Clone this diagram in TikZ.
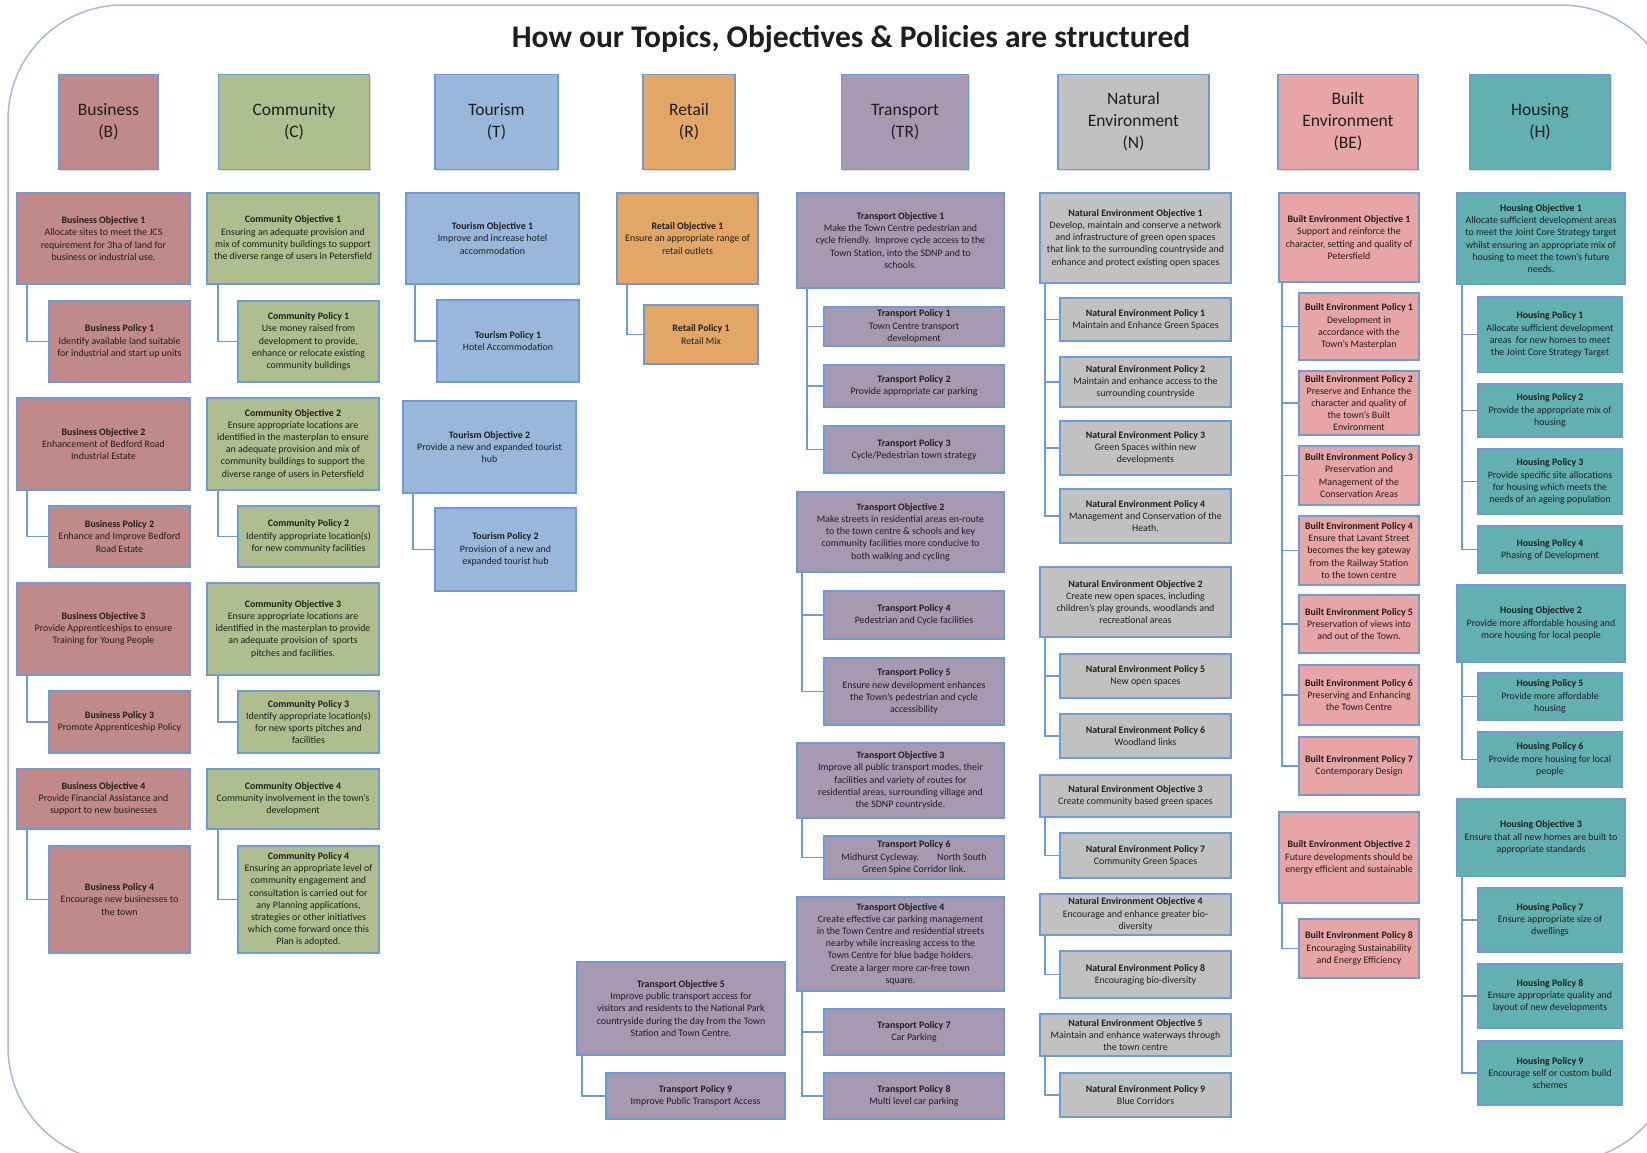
\documentclass[tikz,border=0pt]{standalone}
\usepackage{fontspec}
\setmainfont{Carlito}
\usetikzlibrary{shadows}
\definecolor{bordblue}{HTML}{6E9BD2}
\definecolor{framecol}{HTML}{A8BBD6}
\definecolor{busfill}{HTML}{C08A8A}
\definecolor{comfill}{HTML}{AFBE8E}
\definecolor{tourfill}{HTML}{98B7DA}
\definecolor{retfill}{HTML}{E2A767}
\definecolor{trafill}{HTML}{A699B2}
\definecolor{natfill}{HTML}{C1C1C1}
\definecolor{bltfill}{HTML}{E8A5A6}
\definecolor{houfill}{HTML}{63B0B0}
\definecolor{txt}{HTML}{1E1E1E}
\tikzstyle{topic} = [draw=bordblue, line width=1.6pt, align=center, text=txt, font=\fontsize{17.5}{22}\selectfont, minimum height=95pt, drop shadow={shadow xshift=1.2pt, shadow yshift=-1.2pt, opacity=0.25}]
\tikzstyle{item} = [draw=bordblue, line width=1.6pt, align=center, text=txt, font=\fontsize{9.9}{12.2}\selectfont, inner sep=1pt, drop shadow={shadow xshift=1.2pt, shadow yshift=-1.2pt, opacity=0.25}]
\tikzstyle{link} = [draw=bordblue, line width=1.8pt]

\begin{document}
\begin{tikzpicture}[x=1pt,y=-1pt]
\useasboundingbox (0,0) rectangle (1647,1152);
\clip (0,0) rectangle (1647,1152);
\fill[white] (0,0) rectangle (1647,1152);
\draw[framecol, line width=1.5pt, rounded corners=115pt] (8,5) rectangle (1676,1162);

\node[font=\fontsize{31.5}{36}\selectfont\bfseries, text=txt] (title) at (851,39) {How our Topics, Objectives \& Policies are structured};

% topic headers
\node[topic, fill=busfill, minimum width=99pt] (hbus) at (108.5,122) {Business\\(B)};
\node[topic, fill=comfill, minimum width=151pt] (hcom) at (294,122) {Community\\(C)};
\node[topic, fill=tourfill, minimum width=123pt] (htour) at (496.5,122) {Tourism\\(T)};
\node[topic, fill=retfill, minimum width=92pt] (hret) at (689,122) {Retail\\(R)};
\node[topic, fill=trafill, minimum width=127pt] (htra) at (905,122) {Transport\\(TR)};
\node[topic, fill=natfill, minimum width=151pt] (hnat) at (1133.5,122) {Natural\\Environment\\(N)};
\node[topic, fill=bltfill, minimum width=140pt] (hblt) at (1348,122) {Built\\Environment\\(BE)};
\node[topic, fill=houfill, minimum width=141pt] (hhou) at (1540,122) {Housing\\(H)};

% business
\node[item, fill=busfill, minimum width=173pt, minimum height=91pt] (bo1) at (103.5,238.5) {\textbf{Business Objective 1}\\Allocate sites to meet the JCS\\requirement for 3ha of land for\\business or industrial use.};
\node[item, fill=busfill, minimum width=141pt, minimum height=81pt] (bp1) at (119.5,341.5) {\textbf{Business Policy 1}\\Identify available land suitable\\for industrial and start up units};
\node[item, fill=busfill, minimum width=173pt, minimum height=92pt] (bo2) at (103.5,444) {\textbf{Business Objective 2}\\Enhancement of Bedford Road\\Industrial Estate};
\node[item, fill=busfill, minimum width=141pt, minimum height=61pt] (bp2) at (119.5,536.5) {\textbf{Business Policy 2}\\Enhance and Improve Bedford\\Road Estate};
\node[item, fill=busfill, minimum width=173pt, minimum height=92pt] (bo3) at (103.5,629) {\textbf{Business Objective 3}\\Provide Apprenticeships to ensure\\Training for Young People};
\node[item, fill=busfill, minimum width=141pt, minimum height=62pt] (bp3) at (119.5,722) {\textbf{Business Policy 3}\\Promote Apprenticeship Policy};
\node[item, fill=busfill, minimum width=173pt, minimum height=60pt] (bo4) at (103.5,799) {\textbf{Business Objective 4}\\Provide Financial Assistance and\\support to new businesses};
\node[item, fill=busfill, minimum width=141pt, minimum height=107pt] (bp4) at (119.5,899.5) {\textbf{Business Policy 4}\\Encourage new businesses to\\the town};

% community
\node[item, fill=comfill, minimum width=172pt, minimum height=91pt] (co1) at (293,238.5) {\textbf{Community Objective 1}\\Ensuring an adequate provision and\\mix of community buildings to support\\the diverse range of users in Petersfield};
\node[item, fill=comfill, minimum width=141pt, minimum height=81pt] (cp1) at (308.5,341.5) {\textbf{Community Policy 1}\\Use money raised from\\development to provide,\\enhance or relocate existing\\community buildings};
\node[item, fill=comfill, minimum width=172pt, minimum height=92pt] (co2) at (293,444) {\textbf{Community Objective 2}\\Ensure appropriate locations are\\identified in the masterplan to ensure\\an adequate provision and mix of\\community buildings to support the\\diverse range of users in Petersfield};
\node[item, fill=comfill, minimum width=141pt, minimum height=61pt] (cp2) at (308.5,536.5) {\textbf{Community Policy 2}\\Identify appropriate location(s)\\for new community facilities};
\node[item, fill=comfill, minimum width=172pt, minimum height=92pt] (co3) at (293,629) {\textbf{Community Objective 3}\\Ensure appropriate locations are\\identified in the masterplan to provide\\an adequate provision of\ \ sports\\pitches and facilities.};
\node[item, fill=comfill, minimum width=141pt, minimum height=62pt] (cp3) at (308.5,722) {\textbf{Community Policy 3}\\Identify appropriate location(s)\\for new sports pitches and\\facilities};
\node[item, fill=comfill, minimum width=172pt, minimum height=60pt] (co4) at (293,799) {\textbf{Community Objective 4}\\Community involvement in the town's\\development};
\node[item, fill=comfill, minimum width=141pt, minimum height=107pt] (cp4) at (308.5,899.5) {\textbf{Community Policy 4}\\Ensuring an appropriate level of\\community engagement and\\consultation is carried out for\\any Planning applications,\\strategies or other initiatives\\which come forward once this\\Plan is adopted.};

% tourism
\node[item, fill=tourfill, minimum width=173pt, minimum height=91pt] (to1) at (492.5,238.5) {\textbf{Tourism Objective 1}\\Improve and increase hotel\\accommodation};
\node[item, fill=tourfill, minimum width=142pt, minimum height=82pt] (tp1) at (508,341) {\textbf{Tourism Policy 1}\\Hotel Accommodation};
\node[item, fill=tourfill, minimum width=173pt, minimum height=92pt] (to2) at (489.5,447) {\textbf{Tourism Objective 2}\\Provide a new and expanded tourist\\hub};
\node[item, fill=tourfill, minimum width=141pt, minimum height=83pt] (tp2) at (505.5,549.5) {\textbf{Tourism Policy 2}\\Provision of a new and\\expanded tourist hub};

% retail
\node[item, fill=retfill, minimum width=141pt, minimum height=91pt] (ro1) at (687.5,238.5) {\textbf{Retail Objective 1}\\Ensure an appropriate range of\\retail outlets};
\node[item, fill=retfill, minimum width=114pt, minimum height=59pt] (rp1) at (701,334.5) {\textbf{Retail Policy 1}\\Retail Mix};

% transport
\node[item, fill=trafill, minimum width=207pt, minimum height=95pt] (tro1) at (900.5,240.5) {\textbf{Transport Objective 1}\\Make the Town Centre pedestrian and\\cycle friendly.\ \ Improve cycle access to the\\Town Station, into the SDNP and to\\schools.};
\node[item, fill=trafill, minimum width=180pt, minimum height=39pt] (trp1) at (914,326.5) {\textbf{Transport Policy 1}\\Town Centre transport\\development};
\node[item, fill=trafill, minimum width=180pt, minimum height=42pt] (trp2) at (914,386) {\textbf{Transport Policy 2}\\Provide appropriate car parking};
\node[item, fill=trafill, minimum width=180pt, minimum height=47pt] (trp3) at (914,449.5) {\textbf{Transport Policy 3}\\Cycle/Pedestrian town strategy};
\node[item, fill=trafill, minimum width=207pt, minimum height=80pt] (tro2) at (900.5,532) {\textbf{Transport Objective 2}\\Make streets in residential areas en-route\\to the town centre \& schools and key\\community facilities more conducive to\\both walking and cycling};
\node[item, fill=trafill, minimum width=180pt, minimum height=48pt] (trp4) at (914,615) {\textbf{Transport Policy 4}\\Pedestrian and Cycle facilities};
\node[item, fill=trafill, minimum width=180pt, minimum height=67pt] (trp5) at (914,691.5) {\textbf{Transport Policy 5}\\Ensure new development enhances\\the Town's pedestrian and cycle\\accessibility};
\node[item, fill=trafill, minimum width=207pt, minimum height=75pt] (tro3) at (900.5,780.5) {\textbf{Transport Objective 3}\\Improve all public transport modes, their\\facilities and variety of routes for\\residential areas, surrounding village and\\the SDNP countryside.};
\node[item, fill=trafill, minimum width=180pt, minimum height=43pt] (trp6) at (914,857.5) {\textbf{Transport Policy 6}\\Midhurst Cycleway.\hspace{18pt}North South\\Green Spine Corridor link.};
\node[item, fill=trafill, minimum width=207pt, minimum height=94pt] (tro4) at (900.5,944) {\textbf{Transport Objective 4}\\Create effective car parking management\\in the Town Centre and residential streets\\nearby while increasing access to the\\Town Centre for blue badge holders.\\Create a larger more car-free town\\square.};
\node[item, fill=trafill, minimum width=180pt, minimum height=46pt] (trp7) at (914,1032) {\textbf{Transport Policy 7}\\Car Parking};
\node[item, fill=trafill, minimum width=180pt, minimum height=46pt] (trp8) at (914,1096) {\textbf{Transport Policy 8}\\Multi level car parking};
\node[item, fill=trafill, minimum width=208pt, minimum height=93pt] (tro5) at (681,1008.5) {\textbf{Transport Objective 5}\\Improve public transport access for\\visitors and residents to the National Park\\countryside during the day from the Town\\Station and Town Centre.};
\node[item, fill=trafill, minimum width=179pt, minimum height=46pt] (trp9) at (695.5,1096) {\textbf{Transport Policy 9}\\Improve Public Transport Access};

% natural environment
\node[item, fill=natfill, minimum width=191pt, minimum height=90pt] (neo1) at (1135.5,238) {\textbf{Natural Environment Objective 1}\\Develop, maintain and conserve a network\\and infrastructure of green open spaces\\that link to the surrounding countryside and\\enhance and protect existing open spaces};
\node[item, fill=natfill, minimum width=171pt, minimum height=43pt] (nep1) at (1145.5,319.5) {\textbf{Natural Environment Policy 1}\\Maintain and Enhance Green Spaces};
\node[item, fill=natfill, minimum width=171pt, minimum height=50pt] (nep2) at (1145.5,382) {\textbf{Natural Environment Policy 2}\\Maintain and enhance access to the\\surrounding countryside};
\node[item, fill=natfill, minimum width=171pt, minimum height=54pt] (nep3) at (1145.5,448) {\textbf{Natural Environment Policy 3}\\Green Spaces within new\\developments};
\node[item, fill=natfill, minimum width=171pt, minimum height=54pt] (nep4) at (1145.5,516) {\textbf{Natural Environment Policy 4}\\Management and Conservation of the\\Heath.};
\node[item, fill=natfill, minimum width=191pt, minimum height=70pt] (neo2) at (1135.5,602) {\textbf{Natural Environment Objective 2}\\Create new open spaces, including\\children's play grounds, woodlands and\\recreational areas};
\node[item, fill=natfill, minimum width=171pt, minimum height=44pt] (nep5) at (1145.5,676) {\textbf{Natural Environment Policy 5}\\New open spaces};
\node[item, fill=natfill, minimum width=171pt, minimum height=44pt] (nep6) at (1145.5,736) {\textbf{Natural Environment Policy 6}\\Woodland links};
\node[item, fill=natfill, minimum width=191pt, minimum height=42pt] (neo3) at (1135.5,796) {\textbf{Natural Environment Objective 3}\\Create community based green spaces};
\node[item, fill=natfill, minimum width=171pt, minimum height=45pt] (nep7) at (1145.5,855.5) {\textbf{Natural Environment Policy 7}\\Community Green Spaces};
\node[item, fill=natfill, minimum width=191pt, minimum height=41pt] (neo4) at (1135.5,914.5) {\textbf{Natural Environment Objective 4}\\Encourage and enhance greater bio-\\diversity};
\node[item, fill=natfill, minimum width=171pt, minimum height=47pt] (nep8) at (1145.5,974.5) {\textbf{Natural Environment Policy 8}\\Encouraging bio-diversity};
\node[item, fill=natfill, minimum width=191pt, minimum height=42pt] (neo5) at (1135.5,1035) {\textbf{Natural Environment Objective 5}\\Maintain and enhance waterways through\\the town centre};
\node[item, fill=natfill, minimum width=171pt, minimum height=44pt] (nep9) at (1145.5,1095) {\textbf{Natural Environment Policy 9}\\Blue Corridors};

% built environment
\node[item, fill=bltfill, minimum width=140pt, minimum height=89pt] (beo1) at (1349,237.5) {\textbf{Built Environment Objective 1}\\Support and reinforce the\\character, setting and quality of\\Petersfield};
\node[item, fill=bltfill, minimum width=120pt, minimum height=67pt] (bep1) at (1359,326.5) {\textbf{Built Environment Policy 1}\\Development in\\accordance with the\\Town's Masterplan};
\node[item, fill=bltfill, minimum width=120pt, minimum height=64pt] (bep2) at (1359,403) {\textbf{Built Environment Policy 2}\\Preserve and Enhance the\\character and quality of\\the town's Built\\Environment};
\node[item, fill=bltfill, minimum width=120pt, minimum height=59pt] (bep3) at (1359,475.5) {\textbf{Built Environment Policy 3}\\Preservation and\\Management of the\\Conservation Areas};
\node[item, fill=bltfill, minimum width=120pt, minimum height=69pt] (bep4) at (1359,550.5) {\textbf{Built Environment Policy 4}\\Ensure that Lavant Street\\becomes the key gateway\\from the Railway Station\\to the town centre};
\node[item, fill=bltfill, minimum width=120pt, minimum height=58pt] (bep5) at (1359,624) {\textbf{Built Environment Policy 5}\\Preservation of views into\\and out of the Town.};
\node[item, fill=bltfill, minimum width=120pt, minimum height=60pt] (bep6) at (1359,695) {\textbf{Built Environment Policy 6}\\Preserving and Enhancing\\the Town Centre};
\node[item, fill=bltfill, minimum width=120pt, minimum height=58pt] (bep7) at (1359,766) {\textbf{Built Environment Policy 7}\\Contemporary Design};
\node[item, fill=bltfill, minimum width=140pt, minimum height=91pt] (beo2) at (1349,857.5) {\textbf{Built Environment Objective 2}\\Future developments should be\\energy efficient and sustainable};
\node[item, fill=bltfill, minimum width=120pt, minimum height=59pt] (bep8) at (1359,948.5) {\textbf{Built Environment Policy 8}\\Encouraging Sustainability\\and Energy Efficiency};

% housing
\node[item, fill=houfill, minimum width=168pt, minimum height=91pt] (ho1) at (1541,238.5) {\textbf{Housing Objective 1}\\Allocate sufficient development areas\\to meet the Joint Core Strategy target\\whilst ensuring an appropriate mix of\\housing to meet the town's future\\needs.};
\node[item, fill=houfill, minimum width=144pt, minimum height=75pt] (hp1) at (1550,334.5) {\textbf{Housing Policy 1}\\Allocate sufficient development\\areas\ \ for new homes to meet\\the Joint Core Strategy Target};
\node[item, fill=houfill, minimum width=144pt, minimum height=53pt] (hp2) at (1550,410.5) {\textbf{Housing Policy 2}\\Provide the appropriate mix of\\housing};
\node[item, fill=houfill, minimum width=144pt, minimum height=65pt] (hp3) at (1550,481.5) {\textbf{Housing Policy 3}\\Provide specific site allocations\\for housing which meets the\\needs of an ageing population};
\node[item, fill=houfill, minimum width=144pt, minimum height=47pt] (hp4) at (1550,549.5) {\textbf{Housing Policy 4}\\Phasing of Development};
\node[item, fill=houfill, minimum width=168pt, minimum height=77pt] (ho2) at (1541,623.5) {\textbf{Housing Objective 2}\\Provide more affordable housing and\\more housing for local people};
\node[item, fill=houfill, minimum width=144pt, minimum height=47pt] (hp5) at (1550,696.5) {\textbf{Housing Policy 5}\\Provide more affordable\\housing};
\node[item, fill=houfill, minimum width=144pt, minimum height=55pt] (hp6) at (1550,759.5) {\textbf{Housing Policy 6}\\Provide more housing for local\\people};
\node[item, fill=houfill, minimum width=168pt, minimum height=77pt] (ho3) at (1541,837.5) {\textbf{Housing Objective 3}\\Ensure that all new homes are built to\\appropriate standards};
\node[item, fill=houfill, minimum width=144pt, minimum height=64pt] (hp7) at (1550,920) {\textbf{Housing Policy 7}\\Ensure appropriate size of\\dwellings};
\node[item, fill=houfill, minimum width=144pt, minimum height=64pt] (hp8) at (1550,996) {\textbf{Housing Policy 8}\\Ensure appropriate quality and\\layout of new developments};
\node[item, fill=houfill, minimum width=144pt, minimum height=64pt] (hp9) at (1550,1073) {\textbf{Housing Policy 9}\\Encourage self or custom build\\schemes};

% connectors
\draw[link] ([xshift=11pt]bo1.south west) |- (bp1.west);
\draw[link] ([xshift=11pt]bo2.south west) |- (bp2.west);
\draw[link] ([xshift=11pt]bo3.south west) |- (bp3.west);
\draw[link] ([xshift=11pt]bo4.south west) |- (bp4.west);
\draw[link] ([xshift=12pt]co1.south west) |- (cp1.west);
\draw[link] ([xshift=12pt]co2.south west) |- (cp2.west);
\draw[link] ([xshift=12pt]co3.south west) |- (cp3.west);
\draw[link] ([xshift=12pt]co4.south west) |- (cp4.west);
\draw[link] ([xshift=10pt]to1.south west) |- (tp1.west);
\draw[link] ([xshift=11pt]to2.south west) |- (tp2.west);
\draw[link] ([xshift=11pt]ro1.south west) |- (rp1.west);
\draw[link] ([xshift=11pt]tro1.south west) |- (trp1.west);
\draw[link] ([xshift=11pt]tro1.south west) |- (trp2.west);
\draw[link] ([xshift=11pt]tro1.south west) |- (trp3.west);
\draw[link] ([xshift=6pt]tro2.south west) |- (trp4.west);
\draw[link] ([xshift=6pt]tro2.south west) |- (trp5.west);
\draw[link] ([xshift=6pt]tro3.south west) |- (trp6.west);
\draw[link] ([xshift=6pt]tro4.south west) |- (trp7.west);
\draw[link] ([xshift=6pt]tro4.south west) |- (trp8.west);
\draw[link] ([xshift=6pt]tro5.south west) |- (trp9.west);
\draw[link] ([xshift=6pt]neo1.south west) |- (nep1.west);
\draw[link] ([xshift=6pt]neo1.south west) |- (nep2.west);
\draw[link] ([xshift=6pt]neo1.south west) |- (nep3.west);
\draw[link] ([xshift=6pt]neo1.south west) |- (nep4.west);
\draw[link] ([xshift=6pt]neo2.south west) |- (nep5.west);
\draw[link] ([xshift=6pt]neo2.south west) |- (nep6.west);
\draw[link] ([xshift=6pt]neo3.south west) |- (nep7.west);
\draw[link] ([xshift=6pt]neo4.south west) |- (nep8.west);
\draw[link] ([xshift=6pt]neo5.south west) |- (nep9.west);
\draw[link] ([xshift=4pt]beo1.south west) |- (bep1.west);
\draw[link] ([xshift=4pt]beo1.south west) |- (bep2.west);
\draw[link] ([xshift=4pt]beo1.south west) |- (bep3.west);
\draw[link] ([xshift=4pt]beo1.south west) |- (bep4.west);
\draw[link] ([xshift=4pt]beo1.south west) |- (bep5.west);
\draw[link] ([xshift=4pt]beo1.south west) |- (bep6.west);
\draw[link] ([xshift=4pt]beo1.south west) |- (bep7.west);
\draw[link] ([xshift=4pt]beo2.south west) |- (bep8.west);
\draw[link] ([xshift=6pt]ho1.south west) |- (hp1.west);
\draw[link] ([xshift=6pt]ho1.south west) |- (hp2.west);
\draw[link] ([xshift=6pt]ho1.south west) |- (hp3.west);
\draw[link] ([xshift=6pt]ho1.south west) |- (hp4.west);
\draw[link] ([xshift=6pt]ho2.south west) |- (hp5.west);
\draw[link] ([xshift=6pt]ho2.south west) |- (hp6.west);
\draw[link] ([xshift=6pt]ho3.south west) |- (hp7.west);
\draw[link] ([xshift=6pt]ho3.south west) |- (hp8.west);
\draw[link] ([xshift=6pt]ho3.south west) |- (hp9.west);
\end{tikzpicture}
\end{document}
